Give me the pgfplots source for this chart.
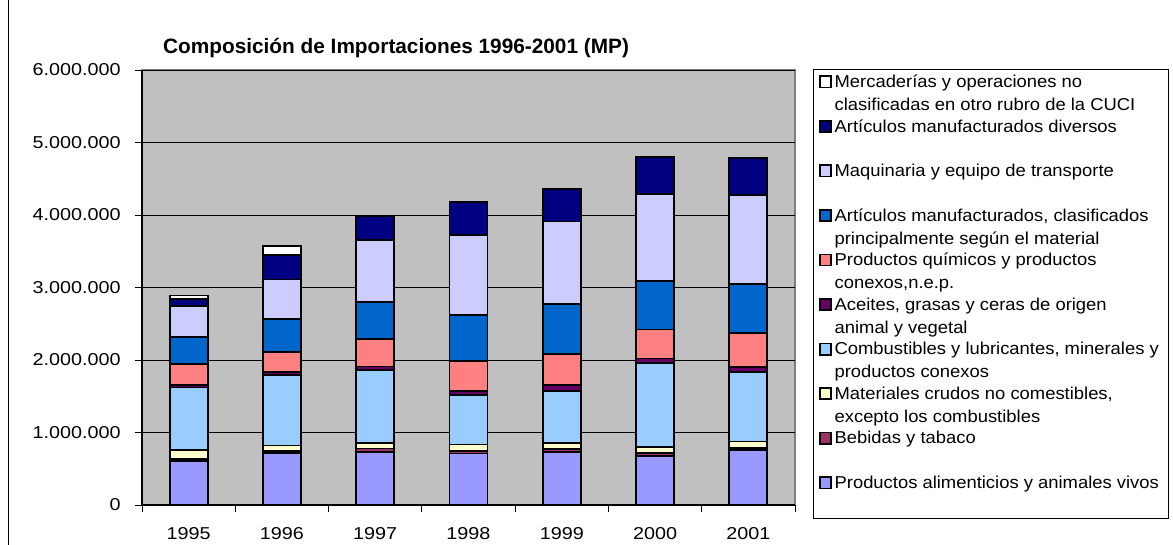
\documentclass[border=0pt]{standalone}
\usepackage{fontspec}
\setmainfont[FakeStretch=1.07]{Liberation Sans}
\newfontfamily\tickfont[FakeStretch=1.15]{Liberation Sans}
\newfontfamily\titlefont{Liberation Sans}
\usepackage{pgfplots}
\usepackage{pgfplotstable}
\pgfplotsset{compat=1.18}

\definecolor{cfood}{HTML}{9999FF}
\definecolor{cbev}{HTML}{993366}
\definecolor{cmat}{HTML}{FFFFCC}
\definecolor{ccomb}{HTML}{99CCFF}
\definecolor{cace}{HTML}{660066}
\definecolor{cquim}{HTML}{FF8080}
\definecolor{cmanuf}{HTML}{0066CC}
\definecolor{cmaq}{HTML}{CCCCFF}
\definecolor{cdiv}{HTML}{000080}
\definecolor{cmerc}{HTML}{FFFFFF}
\definecolor{cbg}{HTML}{C0C0C0}
\definecolor{cborder}{HTML}{808080}

\pgfplotstableread{
x food bev mat comb ace quim manuf maq div merc
0 610000 25000 125000 860000 35000 290000 375000 425000 95000 50000
1 720000 25000 75000 970000 50000 275000 445000 550000 340000 120000
2 735000 45000 80000 1000000 50000 375000 515000 855000 335000 3000
3 710000 40000 85000 685000 55000 410000 635000 1110000 450000 3000
4 735000 35000 80000 725000 80000 425000 690000 1140000 445000 3000
5 680000 40000 85000 1150000 65000 400000 675000 1190000 510000 3000
6 760000 30000 85000 965000 65000 470000 675000 1225000 505000 3000
}\datatable

\pgfplotsset{sqlegend/.style={legend image code/.code={\draw[##1,draw=black,line width=1.2pt] (0pt,0pt) rectangle (8.5pt,8.5pt);}}}
\newcommand{\lent}[2]{\parbox[t]{246pt}{\strut #1\\ \strut #2}}

\begin{document}
\begin{tikzpicture}[x=1pt,y=1pt]
\path[use as bounding box] (0,0) rectangle (879.75,408.75);
\draw[line width=0.75pt] (6,0) -- (6,408.75);
\begin{axis}[
  at={(106.5pt,30pt)}, anchor=south west,
  scale only axis, width=489.75pt, height=326.25pt,
  ybar stacked, bar width=28.5pt,
  sqlegend,
  xmin=-0.5, xmax=6.5, ymin=0, ymax=6000000,
  scaled y ticks=false,
  xtick={-0.5,0.5,1.5,2.5,3.5,4.5,5.5,6.5},
  x tick label as interval,
  xticklabels={1995,1996,1997,1998,1999,2000,2001},
  ytick={0,1000000,2000000,3000000,4000000,5000000,6000000},
  yticklabels={0,1.000.000,2.000.000,3.000.000,4.000.000,5.000.000,6.000.000},
  tick label style={font=\tickfont\fontsize{12.9pt}{14pt}\selectfont, black},
  yticklabel style={xshift=-7.5pt},
  xticklabel style={yshift=-8pt},
  axis x line*=bottom, axis y line*=left,
  axis line style={-, black, line width=0.8pt},
  axis background/.style={fill=cbg, draw=cborder, line width=1.5pt},
  ymajorgrids, major grid style={black, line width=0.6pt},
  tick align=outside, major tick length=5pt, tick style={black, line width=0.6pt},
  title={\titlefont\bfseries\fontsize{15.6pt}{18pt}\selectfont Composición de Importaciones 1996-2001 (MP)},
  title style={at={(0.032,1.0184)}, anchor=base west, inner sep=0pt},
  legend style={at={(1.027,1.0023)}, anchor=north west, draw=black, line width=0.6pt, fill=white,
    font=\fontsize{12.9pt}{17.3pt}\selectfont, inner xsep=4.5pt, inner ysep=1.5pt,
    row sep=0pt, column sep=2pt,
    nodes={inner sep=0pt, anchor=base west, text height=12.1pt, text depth=21.3pt}},
  reverse legend,
  every axis plot/.append style={draw=black, line width=1.4pt},
]
\addplot[fill=cfood] table[x=x,y=food] {\datatable};
\addlegendentry{\lent{Productos alimenticios y animales vivos}{}}
\addplot[fill=cbev] table[x=x,y=bev] {\datatable};
\addlegendentry{\lent{Bebidas y tabaco}{}}
\addplot[fill=cmat] table[x=x,y=mat] {\datatable};
\addlegendentry{\lent{Materiales crudos no comestibles,}{excepto los combustibles}}
\addplot[fill=ccomb] table[x=x,y=comb] {\datatable};
\addlegendentry{\lent{Combustibles y lubricantes, minerales y}{productos conexos}}
\addplot[fill=cace] table[x=x,y=ace] {\datatable};
\addlegendentry{\lent{Aceites, grasas y ceras de origen}{animal y vegetal}}
\addplot[fill=cquim] table[x=x,y=quim] {\datatable};
\addlegendentry{\lent{Productos químicos y productos}{conexos,n.e.p.}}
\addplot[fill=cmanuf] table[x=x,y=manuf] {\datatable};
\addlegendentry{\lent{Artículos manufacturados, clasificados}{principalmente según el material}}
\addplot[fill=cmaq] table[x=x,y=maq] {\datatable};
\addlegendentry{\lent{Maquinaria y equipo de transporte}{}}
\addplot[fill=cdiv] table[x=x,y=div] {\datatable};
\addlegendentry{\lent{Artículos manufacturados diversos}{}}
\addplot[fill=cmerc] table[x=x,y=merc] {\datatable};
\addlegendentry{\lent{Mercaderías y operaciones no}{clasificadas en otro rubro de la CUCI}}
\end{axis}
\end{tikzpicture}
\end{document}
